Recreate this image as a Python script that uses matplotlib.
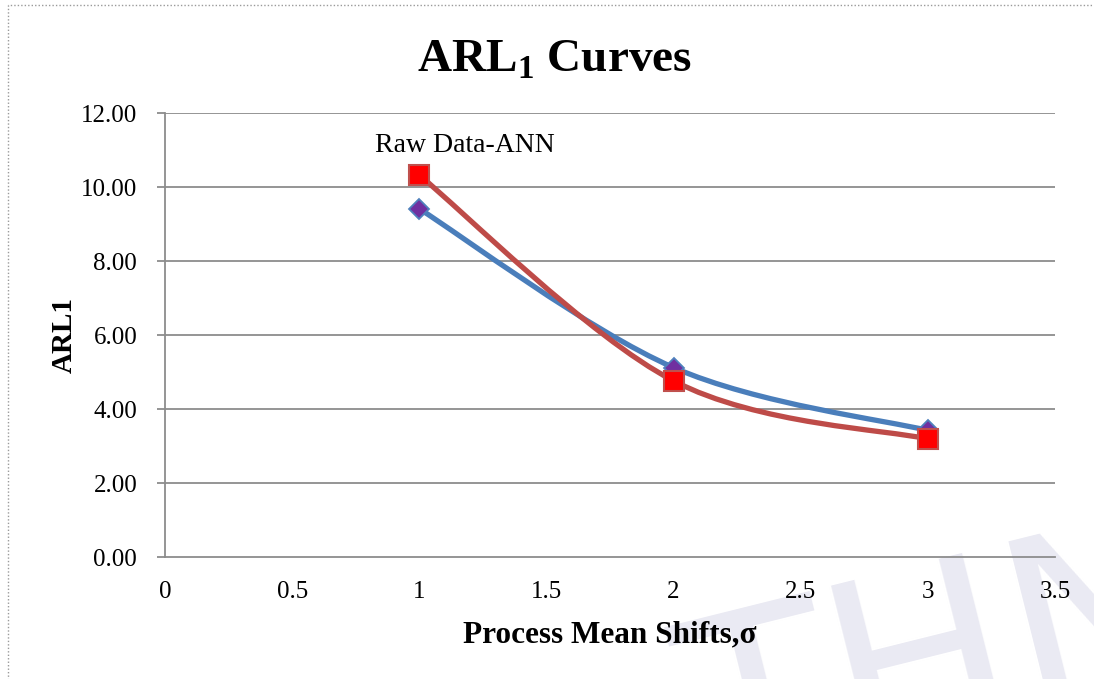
import numpy as np
import matplotlib
matplotlib.use("Agg")
import matplotlib.pyplot as plt
from matplotlib.patches import Rectangle, PathPatch
from matplotlib.path import Path

plt.rcParams['font.family'] = ['Liberation Serif', 'DejaVu Serif']
plt.rcParams['mathtext.fontset'] = 'custom'
plt.rcParams['mathtext.rm'] = 'Liberation Serif'
plt.rcParams['mathtext.bf'] = 'Liberation Serif:bold'

# Process mean shifts (in sigma) and ARL1 values
shifts = [1, 2, 3]
arl_blue = [9.41, 5.12, 3.42]
arl_raw_ann = [10.32, 4.76, 3.19]
series_label = "Raw Data-ANN"

x_ticks = [0, 0.5, 1, 1.5, 2, 2.5, 3, 3.5]
x_tick_labels = ["0", "0.5", "1", "1.5", "2", "2.5", "3", "3.5"]
y_ticks = [0, 2, 4, 6, 8, 10, 12]
y_tick_labels = ["0.00", "2.00", "4.00", "6.00", "8.00", "10.00", "12.00"]


def smooth_path(xs, ys):
    """Bezier path through the points, spreadsheet-style smoothing."""
    pts = np.column_stack([xs, ys]).astype(float)
    n = len(pts)
    verts = [pts[0]]
    codes = [Path.MOVETO]
    for i in range(n - 1):
        p_prev = pts[i - 1] if i > 0 else pts[i]
        p_next2 = pts[i + 2] if i + 2 < n else pts[i + 1]
        c1 = pts[i] + (pts[i + 1] - p_prev) / 6.0
        c2 = pts[i + 1] - (p_next2 - pts[i]) / 6.0
        verts += [c1, c2, pts[i + 1]]
        codes += [Path.CURVE4] * 3
    return Path(verts, codes)


fig = plt.figure(figsize=(10.94, 6.79), dpi=100)

# faint watermark lettering in the lower right
fig.text(0.86, -0.25, "THN", fontsize=175, color='#eaeaf3', rotation=14,
         ha='center', va='bottom', family='DejaVu Sans', zorder=0)

ax = fig.add_axes([165 / 1094, 1 - 557 / 679, (1055 - 165) / 1094, (557 - 113) / 679])
ax.set_facecolor('none')
ax.set_zorder(1)

ax.set_xlim(0, 3.5)
ax.set_ylim(0, 12)

for yv in y_ticks[1:]:
    ax.axhline(yv, color='#8c8c8c', lw=1.3, zorder=1)

blue_line = '#4a7ebb'
red_line = '#be4b48'

ax.add_patch(PathPatch(smooth_path(shifts, arl_blue), facecolor='none',
                       edgecolor=blue_line, lw=3.8, capstyle='round', zorder=3))
ax.add_patch(PathPatch(smooth_path(shifts, arl_raw_ann), facecolor='none',
                       edgecolor=red_line, lw=3.8, capstyle='round', zorder=3))

ax.plot(shifts, arl_blue, linestyle='none', marker='D', markersize=10,
        markerfacecolor='#7030a0', markeredgecolor='#4f81bd',
        markeredgewidth=1.3, zorder=4)
ax.plot(shifts, arl_raw_ann, linestyle='none', marker='s', markersize=14,
        markerfacecolor='#ff0000', markeredgecolor='#c0504d',
        markeredgewidth=1.5, zorder=5)

ax.annotate(series_label, xy=(shifts[0], arl_raw_ann[0]), xytext=(32.5, 21),
            textcoords='offset points', ha='center', va='center',
            fontsize=20, color='black')

for s in ['top', 'right']:
    ax.spines[s].set_visible(False)
for s in ['left', 'bottom']:
    ax.spines[s].set_color('#8c8c8c')
    ax.spines[s].set_linewidth(1.3)

ax.set_xticks(x_ticks)
ax.set_xticklabels(x_tick_labels, fontsize=18)
ax.set_yticks(y_ticks)
ax.set_yticklabels(y_tick_labels, fontsize=18)
ax.tick_params(axis='x', length=0, pad=17)
ax.tick_params(axis='y', length=6, width=1.3, color='#8c8c8c', pad=14)

ax.set_xlabel("Process Mean Shifts,σ", fontsize=22.5, fontweight='bold', labelpad=13)
ax.set_ylabel("ARL1", fontsize=21, fontweight='bold', labelpad=2)

fig.text(555 / 1094, 1 - 60 / 679, r"ARL$_\mathbf{1}$ Curves", ha='center', va='center',
         fontsize=34, fontweight='bold')

# dotted chart-area border
fig.patches.append(Rectangle((8 / 1094, -0.05), 1.2, 1 - 5 / 679 + 0.05,
                             transform=fig.transFigure, fill=False,
                             edgecolor='#9a9a9a', lw=1.0, linestyle=(0, (1, 1.5))))

fig.savefig("out.png", dpi=100)
